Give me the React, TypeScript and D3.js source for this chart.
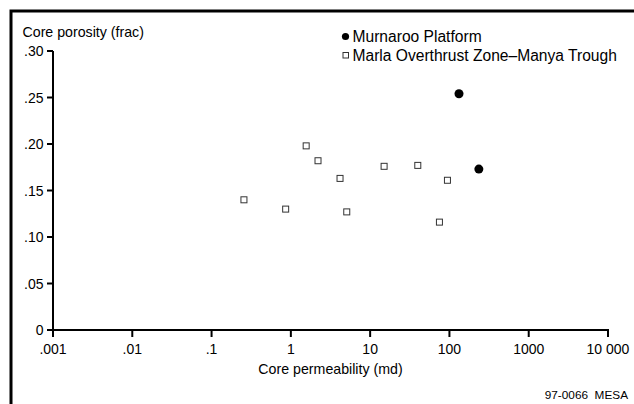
import React from "react";
import * as d3 from "d3";

const murnarooPerm = [132, 235];
const murnarooPor = [0.254, 0.173];

const marlaPerm = [0.256, 0.86, 1.56, 2.2, 4.17, 5.07, 15.0, 39.9, 94.4, 74.8];
const marlaPor = [0.140, 0.130, 0.198, 0.182, 0.163, 0.127, 0.176, 0.177, 0.161, 0.116];

const xTicks = [0.001, 0.01, 0.1, 1, 10, 100, 1000, 10000];
const xTickLabels = [".001", ".01", ".1", "1", "10", "100", "1000", "10 000"];
const yTicks = [0, 0.05, 0.1, 0.15, 0.2, 0.25, 0.3];
const yTickLabels = ["0", ".05", ".10", ".15", ".20", ".25", ".30"];

const legendLabels = ["Murnaroo Platform", "Marla Overthrust Zone\u2013Manya Trough"];

const FONT = "'Liberation Sans', Arial, Helvetica, sans-serif";

export default function App() {
  const W = 634;
  const H = 404;
  const x = d3.scaleLog().domain([0.001, 10000]).range([53, 608]);
  const y = d3.scaleLinear().domain([0, 0.3]).range([330, 51]);
  const sq = 6;

  return (
    <svg
      width={W}
      height={H}
      style={{ position: "absolute", left: 0, top: 0, background: "#fff" }}
      fontFamily={FONT}
    >
      <rect x={0} y={0} width={W} height={H} fill="#fff" />
      {/* frame */}
      <rect x={11} y={11} width={W + 20} height={H + 20} fill="none" stroke="#000" strokeWidth={3} />

      {/* axes */}
      <line x1={x(0.001)} x2={x(0.001)} y1={y(0.3)} y2={y(0) + 1} stroke="#000" strokeWidth={2} />
      <line x1={x(0.001) - 1} x2={x(10000) + 1} y1={y(0)} y2={y(0)} stroke="#000" strokeWidth={2} />

      {yTicks.map((t, i) => (
        <g key={"y" + i}>
          <line x1={x(0.001) - 6} x2={x(0.001)} y1={y(t)} y2={y(t)} stroke="#000" strokeWidth={2} />
          <text x={43.5} y={y(t) + 5} fontSize={14} textAnchor="end" fill="#000">
            {yTickLabels[i]}
          </text>
        </g>
      ))}

      {xTicks.map((t, i) => (
        <g key={"x" + i}>
          <line x1={x(t)} x2={x(t)} y1={y(0)} y2={y(0) + 7} stroke="#000" strokeWidth={2} />
          <text x={x(t)} y={354} fontSize={14} textAnchor="middle" fill="#000">
            {xTickLabels[i]}
          </text>
        </g>
      ))}

      <text x={22.5} y={37} fontSize={14.2} fill="#000">Core porosity (frac)</text>
      <text x={(x(0.001) + x(10000)) / 2} y={374} fontSize={14.2} textAnchor="middle" fill="#000">
        Core permeability (md)
      </text>

      <text x={628} y={399} fontSize={11.8} textAnchor="end" fill="#000" style={{ whiteSpace: "pre" }}>
        {"97-0066  MESA"}
      </text>

      {/* data */}
      {marlaPerm.map((p, i) => (
        <rect
          key={"m" + i}
          x={x(p) - sq / 2}
          y={y(marlaPor[i]) - sq / 2}
          width={sq}
          height={sq}
          fill="#fff"
          stroke="#333"
          strokeWidth={1}
        />
      ))}
      {murnarooPerm.map((p, i) => (
        <circle key={"c" + i} cx={x(p)} cy={y(murnarooPor[i])} r={4.5} fill="#000" />
      ))}

      {/* legend */}
      <circle cx={345.5} cy={36.5} r={3.6} fill="#000" />
      <text x={352.5} y={41.8} fontSize={15.6} fill="#000">{legendLabels[0]}</text>
      <rect x={343} y={52.5} width={5.5} height={5.5} fill="#fff" stroke="#333" strokeWidth={1} />
      <text x={352.5} y={60.8} fontSize={15.6} fill="#000">{legendLabels[1]}</text>
    </svg>
  );
}
